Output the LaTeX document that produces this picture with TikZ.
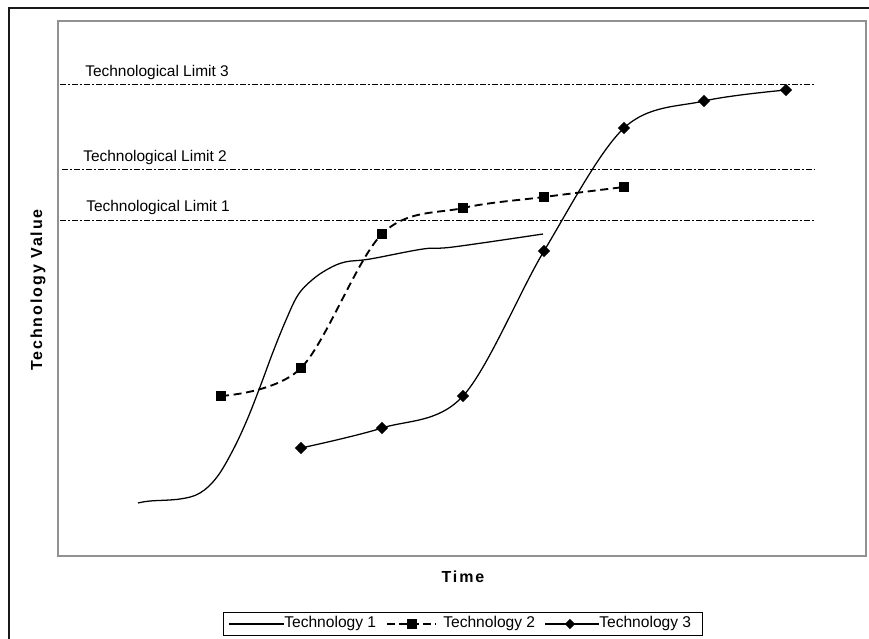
\documentclass[tikz,border=0pt]{standalone}
\usepackage{fontspec}
\setmainfont{Liberation Sans}
\usetikzlibrary{shapes.geometric}

\begin{document}
\begin{tikzpicture}[
  x=0.75pt, y=-0.75pt,
  frameline/.style={line width=1.5pt, black!90},
  plotframe/.style={line width=1.1pt, draw={rgb,255:red,145;green,145;blue,145}},
  limitline/.style={line width=0.75pt, dash pattern=on 4.5pt off 1.5pt on 1.5pt off 1.5pt},
  limitlabel/.style={anchor=west, inner sep=0pt, font=\fontsize{11.6}{13}\selectfont},
  axistitle/.style={inner sep=0pt, font=\fontsize{12}{14}\selectfont\bfseries\addfontfeature{LetterSpace=12}},
  techone/.style={line width=0.95pt},
  techtwo/.style={line width=1.4pt, dash pattern=on 6pt off 3.5pt},
  techthree/.style={line width=0.95pt},
  sqmark/.style={rectangle, fill=black, minimum size=6.8pt, inner sep=0pt},
  dmmark/.style={diamond, fill=black, minimum size=9.2pt, inner sep=0pt},
  legendtext/.style={anchor=west, inner sep=0pt, font=\fontsize{11.7}{13}\selectfont},
]
\useasboundingbox (0,0) rectangle (869,639);

% outer chart frame (only its top and left edges fall inside the page)
\draw[frameline] (8.5,639) -- (8.5,7.5) -- (869,7.5);

% plot area
\draw[plotframe] (58,21) rectangle (866,556);

% technological limits
\draw[limitline] (60,84) -- (815,84);
\draw[limitline] (62,169) -- (815,169);
\draw[limitline] (60,220) -- (815,220);
\node[limitlabel] (lim3) at (85,73) {Technological Limit 3};
\node[limitlabel] (lim2) at (83,157) {Technological Limit 2};
\node[limitlabel] (lim1) at (86,207) {Technological Limit 1};

% axis titles
\node[axistitle, rotate=90] (ytitle) at (38,290) {Technology Value};
\node[axistitle] (xtitle) at (463,577) {Time};

% technology 1: freehand S-curve
\draw[techone] plot[smooth, tension=0.6] coordinates {
  (138,503) (150,501) (180,499) (200,493) (217,477) (233,450) (247,420)
  (260,387) (273,352) (286,320) (298,295) (312,280) (328,269) (345,262)
  (370,259) (423,249) (453,247) (543,234)};

% technology 2
\node[sqmark] (t2a) at (221,396) {};
\node[sqmark] (t2b) at (301,368) {};
\node[sqmark] (t2c) at (382,234) {};
\node[sqmark] (t2d) at (463,208) {};
\node[sqmark] (t2e) at (544,197) {};
\node[sqmark] (t2f) at (624,187) {};
\draw[techtwo] plot[smooth, tension=0.55] coordinates {
  (t2a.center) (t2b.center) (t2c.center) (t2d.center) (t2e.center) (t2f.center)};

% technology 3
\draw[techthree] plot[smooth, tension=0.55] coordinates {
  (301,448) (382,428) (463,396) (544,251) (624,128) (704,101) (786,90)};
\node[dmmark] (t3a) at (301,448) {};
\node[dmmark] (t3b) at (382,428) {};
\node[dmmark] (t3c) at (463,396) {};
\node[dmmark] (t3d) at (544,251) {};
\node[dmmark] (t3e) at (624,128) {};
\node[dmmark] (t3f) at (704,101) {};
\node[dmmark] (t3g) at (786,90) {};

% legend
\draw[line width=0.75pt] (223,612) rectangle (702,635);
\node[legendtext] (lg1) at (284,623.5) {Technology 1};
\node[legendtext] (lg2) at (443,623.5) {Technology 2};
\node[legendtext] (lg3) at (599,623.5) {Technology 3};
\coordinate (k1) at (229,624);
\coordinate (k2) at (387,624);
\coordinate (k3) at (545,624);
\draw[techone] (k1) -- (lg1.west |- k1);
\draw[techtwo, dash pattern=on 6pt off 3pt] (k2) -- (436,624);
\node[sqmark] (lgsq) at (412,624) {};
\draw[techthree] (k3) -- (lg3.west |- k3);
\node[dmmark, minimum size=8pt] (lgdm) at (570,624) {};
\end{tikzpicture}
\end{document}
